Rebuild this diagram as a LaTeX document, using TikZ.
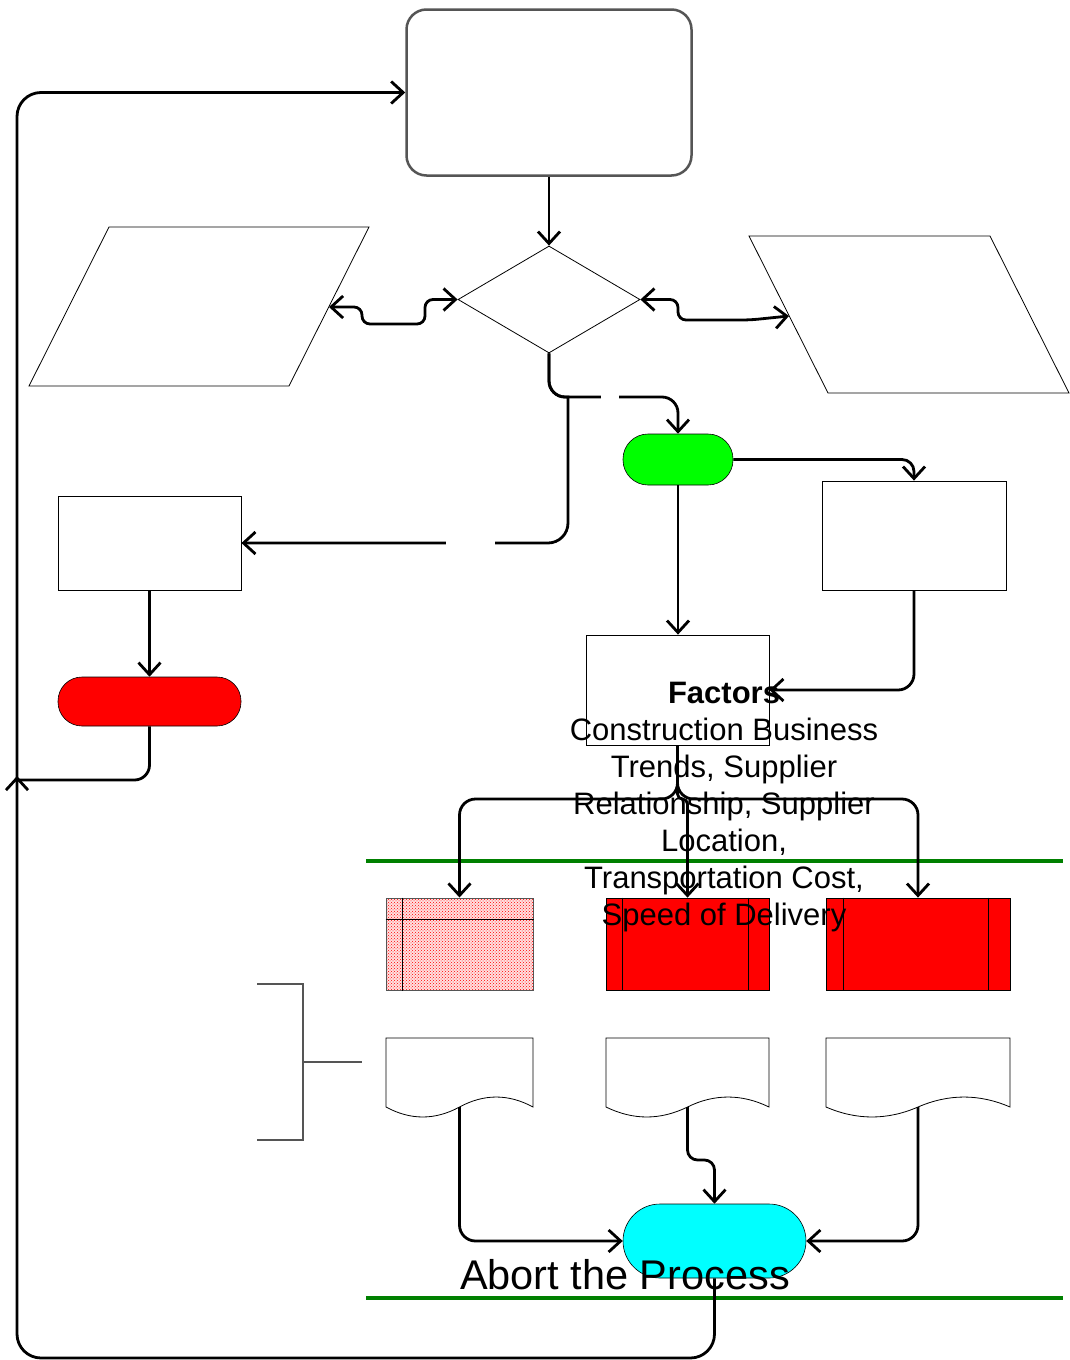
\documentclass[tikz,border=0pt]{standalone}
\usepackage{fontspec}
\setmainfont{Liberation Sans}
\usetikzlibrary{arrows.meta,shapes.geometric,patterns}
\definecolor{bord}{HTML}{555555}
\definecolor{sepgreen}{HTML}{008000}
\definecolor{termgreen}{HTML}{00FF00}
\definecolor{termred}{HTML}{FF0000}
\definecolor{termcyan}{HTML}{00FFFF}
\begin{document}
\begin{tikzpicture}[x=1pt,y=-1pt,
  conn/.style={line width=2.8pt,-{Straight Barb[length=12pt,width=22pt]},rounded corners=16pt},
  both/.style={line width=2.8pt,{Straight Barb[length=12pt,width=22pt]}-{Straight Barb[length=12pt,width=22pt]},rounded corners=8pt},
  shp/.style={draw,line width=0.8pt,inner sep=0pt},
  term/.style={draw,line width=0.6pt,inner sep=0pt},
  gapn/.style={fill=white,draw=none,arrows=-,sharp corners,inner sep=0pt,minimum height=9pt},
  sep/.style={sepgreen,line width=4.5pt}]
\useasboundingbox (0,0) rectangle (1069,1360);
% shapes
\node[draw=bord,line width=2.5pt,rounded corners=20pt,minimum width=285pt,minimum height=166pt,inner sep=0pt] (top) at (549,92.5) {};
\node[diamond,shp,minimum width=182pt,minimum height=107pt] (dia) at (549,299.5) {};
\draw[line width=0.8pt] (109,227) -- (369,227) -- (289,386) -- (29,386) -- cycle;
\coordinate (pL) at (329,307);
\draw[line width=0.8pt] (749,236) -- (990,236) -- (1069,393) -- (828,393) -- cycle;
\coordinate (pR) at (789,316);
\node[term,fill=termgreen,rounded corners=25pt,minimum width=110pt,minimum height=51pt] (go) at (678,459.5) {};
\node[shp,minimum width=183pt,minimum height=94pt] (lr) at (149.5,543) {};
\node[shp,minimum width=184pt,minimum height=109pt] (rr) at (914,535.5) {};
\node[term,fill=termred,rounded corners=24pt,minimum width=183pt,minimum height=49pt] (rd) at (149.5,701.5) {};
\node[shp,minimum width=183pt,minimum height=110pt] (fa) at (677.5,690) {};
% grid box
\node[draw=bord,line width=1pt,inner sep=0pt,minimum width=147pt,minimum height=92pt,preaction={fill=red!12},pattern=crosshatch dots,pattern color=red] (g) at (459.5,944) {};
\draw[line width=0.8pt] ([xshift=17pt]g.north west) -- ([xshift=17pt]g.south west);
\draw[line width=0.8pt] ([yshift=-22pt]g.north west) -- ([yshift=-22pt]g.north east);
% red process boxes
\node[shp,fill=termred,minimum width=163pt,minimum height=92pt] (r2) at (687.5,944) {};
\draw[line width=0.7pt] ([xshift=17pt]r2.north west) -- ([xshift=17pt]r2.south west);
\draw[line width=0.7pt] ([xshift=-21pt]r2.north east) -- ([xshift=-21pt]r2.south east);
\node[shp,fill=termred,minimum width=184pt,minimum height=92pt] (r3) at (918,944) {};
\draw[line width=0.7pt] ([xshift=18pt]r3.north west) -- ([xshift=18pt]r3.south west);
\draw[line width=0.7pt] ([xshift=-22pt]r3.north east) -- ([xshift=-22pt]r3.south east);
% documents
\draw[line width=0.8pt] (386,1038) -- (533,1038) -- (533,1107) .. controls (508.5,1093.7) and (484,1093.7) .. (459.5,1107) .. controls (435,1120.3) and (410.5,1120.3) .. (386,1107) -- cycle;
\coordinate (d1) at (459.5,1107);
\draw[line width=0.8pt] (606,1038) -- (769,1038) -- (769,1107) .. controls (741.8,1093.7) and (714.2,1093.7) .. (687.5,1107) .. controls (660.3,1120.3) and (633.2,1120.3) .. (606,1107) -- cycle;
\coordinate (d2) at (687.5,1107);
\draw[line width=0.8pt] (826,1038) -- (1010,1038) -- (1010,1107) .. controls (979.3,1093.7) and (948.7,1093.7) .. (918,1107) .. controls (887.3,1120.3) and (856.7,1120.3) .. (826,1107) -- cycle;
\coordinate (d3) at (918,1107);
\node[term,fill=termcyan,rounded corners=37pt,minimum width=183pt,minimum height=74pt] (cy) at (714.5,1241) {};
% bracket
\draw[bord,line width=1.3pt] (257,984) -- (303,984) -- (303,1140) -- (257,1140);
\draw[bord,line width=1.3pt] (303,1062) -- (362,1062);
% separators
\draw[sep] (366,861) -- (1063,861);
\draw[sep] (366,1298) -- (1063,1298);
% connectors
\draw[conn] (top.south) -- (dia.north);
\draw[both] (pL) -- (362,307) -- (362,324) -- (425,324) -- (425,299.5) -- (dia.west);
\draw[both] (dia.east) -- (678,299.5) -- (678,320) -- (750,320) -- (pR);
\draw[conn] (dia.south) -- (549,397) -- node[gapn,minimum width=18pt,pos=0.47]{} (678,397) -- (go.north);
\draw[conn] (dia.south) [rounded corners=16pt] -- (549,397) [sharp corners] -- (568,397) [rounded corners=20pt] -- (568,543) -- node[gapn,minimum width=49pt,pos=0.3]{} (lr.east);
\draw[conn,rounded corners=12pt] (go.east) -- (914,459.5) -- (rr.north);
\draw[conn] (go.south) -- (go.south |- fa.north);
\draw[conn] (rr.south) -- (914,690) -- (fa.east);
\draw[conn] (fa.south) -- (677.5,799) -- (459.5,799) -- (g.north);
\draw[conn,rounded corners=5pt] (fa.south) -- (677.5,799) -- (687.5,799) -- (r2.north);
\draw[conn] (fa.south) -- (677.5,799) -- (918,799) -- (r3.north);
\draw[conn] (d1) -- (459.5,1241) -- (cy.west);
\draw[conn,rounded corners=10pt] (d2) -- (687.5,1160) -- (714.5,1160) -- (cy.north);
\draw[conn] (d3) -- (918,1241) -- (cy.east);
\draw[conn,rounded corners=24pt] (cy.south) -- (714.5,1358) -- (17,1358) -- (17,92.5) -- (top.west);
\draw[conn] (lr.south) -- (rd.north);
\draw[conn] (rd.south) [rounded corners=15pt] -- (149.5,780) [sharp corners] -- (17,780) -- (17,776);
% texts
\node[font=\fontsize{31}{37}\selectfont,align=center,anchor=north,inner sep=0pt] (ft) at (724,682) {\textbf{Factors}\\Construction Business\\Trends, Supplier\\Relationship, Supplier\\Location,\\Transportation Cost,\\Speed of Delivery};
\node[font=\fontsize{41.5}{49}\selectfont,anchor=base,inner sep=0pt] (ab) at (625,1289) {Abort the Process};
\end{tikzpicture}
\end{document}
